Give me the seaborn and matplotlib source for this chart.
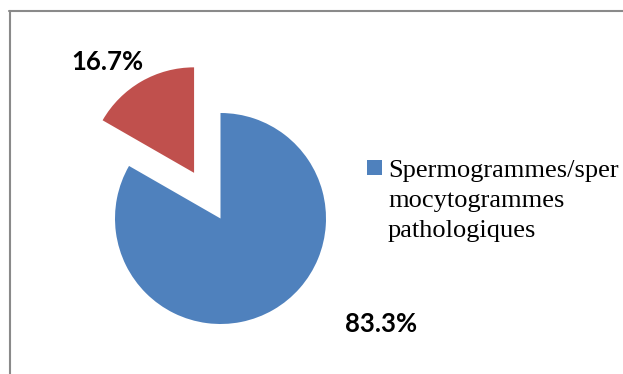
import matplotlib
matplotlib.use("Agg")
import matplotlib.pyplot as plt
from matplotlib.patches import Rectangle
from matplotlib.lines import Line2D
import seaborn as sns

# Share of spermogram / spermocytogram results
categories = ["Spermogrammes/spermocytogrammes pathologiques", "Autres"]
shares = [83.3, 16.7]
colors = ["#4F81BD", "#C0504D"]
legend_lines = ["Spermogrammes/sper", "mocytogrammes", "pathologiques"]

sns.set_theme(style="white")
plt.rcParams["font.family"] = ["Lato", "DejaVu Sans"]

W, H = 623, 374
fig = plt.figure(figsize=(W / 100, H / 100), dpi=100)
fig.patch.set_facecolor("white")
ax = fig.add_axes([0, 0, 1, 1])

wedges, _ = ax.pie(
    shares,
    colors=colors,
    startangle=90,
    counterclock=False,
    explode=[0, 0.5],
    radius=1.0,
    wedgeprops=dict(linewidth=0),
)

# pixel layout: pie centre at (220.5, 218.5), radius 105.5 px
cx, cy, r = 220.5, 218.5, 105.5
ax.set_xlim(-cx / r, (W - cx) / r)
ax.set_ylim((cy - H) / r, cy / r)
ax.set_aspect("auto")
ax.axis("off")

# percentage labels
label_pos = [(1.52, -1.0), (-1.076, 1.488)]
for val, (lx, ly) in zip(shares, label_pos):
    ax.text(lx, ly, f"{val:.1f}%", ha="center", va="center",
            fontsize=18.5, fontweight="bold", color="#000000")

# legend entry for the first category
fig.add_artist(Rectangle((367 / W, 1 - 175 / H), 15 / W, 15 / H,
                         transform=fig.transFigure,
                         facecolor=colors[0], edgecolor="none"))
for i, line in enumerate(legend_lines):
    fig.text(388 / W, 1 - (177 + 30 * i) / H, line,
             family="Liberation Serif", fontsize=19, color="#000000",
             ha="left", va="baseline")

# chart-area frame (top and left edges visible)
fig.add_artist(Line2D([9 / W, 1.0], [1 - 11 / H, 1 - 11 / H],
                      transform=fig.transFigure, color="#8a8a8a", linewidth=1.5))
fig.add_artist(Line2D([10 / W, 10 / W], [0.0, 1 - 11 / H],
                      transform=fig.transFigure, color="#8a8a8a", linewidth=1.5))

fig.savefig("out.png", dpi=100, facecolor="white")
